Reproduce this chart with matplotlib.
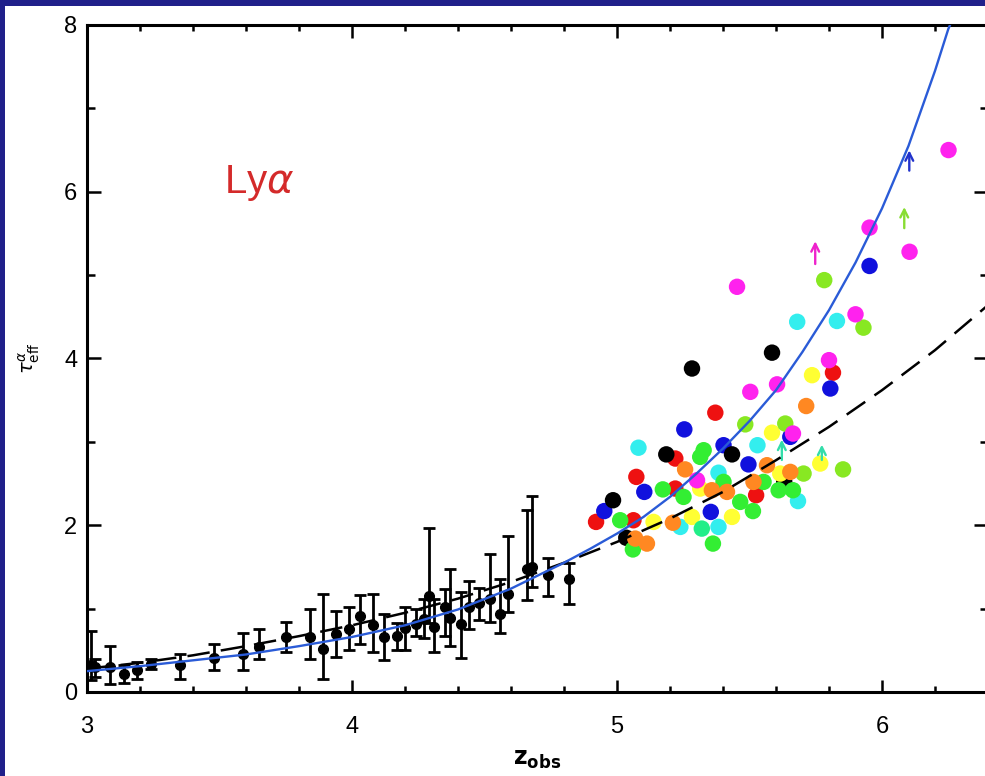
import numpy as np
import matplotlib
matplotlib.use("Agg")
import matplotlib.pyplot as plt
from matplotlib.patches import Rectangle
from matplotlib.ticker import MultipleLocator

plt.rcParams['font.family'] = ['Liberation Sans', 'DejaVu Sans']

# low-redshift measurements with asymmetric error bars
lo_z = [3.015, 3.03, 3.086, 3.14, 3.19, 3.24, 3.35, 3.48, 3.59, 3.65, 3.75,
        3.84, 3.89, 3.94, 3.99, 4.03, 4.08, 4.12, 4.17, 4.20, 4.24, 4.27,
        4.29, 4.31, 4.35, 4.37, 4.41, 4.44, 4.48, 4.52, 4.56, 4.59, 4.66,
        4.68, 4.74, 4.82]
lo_tau = [0.32, 0.30, 0.30, 0.22, 0.26, 0.34, 0.32, 0.41, 0.46, 0.54, 0.66,
          0.66, 0.52, 0.69, 0.76, 0.91, 0.80, 0.66, 0.67, 0.77, 0.81, 0.87,
          1.15, 0.78, 1.02, 0.89, 0.81, 1.02, 1.07, 1.11, 0.94, 1.17, 1.48,
          1.50, 1.40, 1.36]
lo_hi = [0.73, 0.40, 0.55, 0.32, 0.36, 0.40, 0.46, 0.58, 0.71, 0.75, 0.84,
         1.00, 1.18, 0.97, 1.02, 1.16, 1.17, 0.94, 0.83, 1.02, 1.00, 1.11,
         1.97, 1.11, 1.24, 1.48, 1.20, 1.33, 1.25, 1.65, 1.35, 1.87, 2.18,
         2.35, 1.61, 1.55]
lo_lo = [0.14, 0.18, 0.10, 0.11, 0.16, 0.28, 0.16, 0.26, 0.26, 0.39, 0.48,
         0.40, 0.15, 0.42, 0.50, 0.58, 0.48, 0.38, 0.50, 0.50, 0.67, 0.65,
         0.83, 0.48, 0.67, 0.55, 0.41, 0.75, 0.86, 0.84, 0.71, 0.96, 1.10,
         1.26, 1.15, 1.05]

# high-redshift quasar points, one list per colour
red_z = [5.815, 5.371, 5.22, 5.073, 5.22, 5.525, 5.062, 4.921]
red_t = [3.83, 3.35, 2.80, 2.58, 2.44, 2.36, 2.06, 2.04]
blue_z = [5.805, 5.254, 5.654, 5.402, 5.496, 5.103, 5.354, 4.952, 5.953]
blue_t = [3.64, 3.15, 3.06, 2.96, 2.73, 2.40, 2.16, 2.17, 5.11]
black_z = [5.585, 5.283, 5.186, 5.434, 5.631, 4.985, 5.035]
black_t = [4.07, 3.88, 2.85, 2.85, 2.52, 2.30, 1.85]
cyan_z = [5.68, 5.83, 5.081, 5.530, 5.383, 5.683, 5.383, 5.239]
cyan_t = [4.44, 4.45, 2.93, 2.96, 2.63, 2.29, 1.98, 1.98]
yellow_z = [5.736, 5.585, 5.767, 5.314, 5.616, 5.434, 5.283, 5.138]
yellow_t = [3.80, 3.11, 2.74, 2.44, 2.62, 2.10, 2.10, 2.04]
green_z = [5.327, 5.314, 5.173, 5.251, 5.402, 5.553, 5.61, 5.664, 5.465,
           5.513, 5.012, 5.06, 5.362]
green_t = [2.90, 2.82, 2.43, 2.34, 2.52, 2.52, 2.42, 2.42, 2.28, 2.17, 2.06,
           1.71, 1.78]
lime_z = [5.93, 5.484, 5.635, 5.704, 5.853, 5.782]
lime_t = [4.37, 3.21, 3.22, 2.62, 2.67, 4.94]
orange_z = [5.714, 5.566, 5.257, 5.358, 5.415, 5.515, 5.654, 5.211, 5.069,
            5.113]
orange_t = [3.43, 2.72, 2.67, 2.42, 2.40, 2.52, 2.64, 2.03, 1.84, 1.78]
magenta_z = [5.90, 5.80, 5.604, 5.503, 5.664, 5.302, 6.251, 5.953, 6.104,
             5.453]
magenta_t = [4.53, 3.98, 3.69, 3.60, 3.10, 2.54, 6.50, 5.57, 5.28, 4.86]
spring_z = [5.32]
spring_t = [1.96]

# lower limits (arrows)
arr_z = [5.748, 6.084, 6.103, 5.622, 5.773]
arr_lo = [5.10, 5.53, 6.22, 2.75, 2.75]
arr_hi = [5.44, 5.85, 6.53, 3.06, 3.00]
arr_col = ['#ee22cc', '#88dd33', '#2233cc', '#33ddaa', '#33ddaa']

# model curves
fit_z = [3.0, 3.2, 3.4, 3.6, 3.8, 4.0, 4.2, 4.4, 4.6, 4.8, 4.9, 5.0, 5.1,
         5.2, 5.3, 5.4, 5.5, 5.6, 5.7, 5.8, 5.9, 6.0, 6.1, 6.2, 6.25, 6.27]
fit_t = [0.25, 0.31, 0.38, 0.45, 0.55, 0.66, 0.80, 0.99, 1.24, 1.55, 1.72,
         1.90, 2.10, 2.34, 2.62, 2.92, 3.25, 3.62, 4.08, 4.58, 5.15, 5.80,
         6.55, 7.45, 7.95, 8.10]
pow_z = [3.0, 3.2, 3.4, 3.6, 3.8, 4.0, 4.2, 4.4, 4.6, 4.8, 5.0, 5.2, 5.4,
         5.6, 5.8, 6.0, 6.2, 6.4]
pow_t = [0.28, 0.35, 0.44, 0.55, 0.67, 0.80, 0.95, 1.12, 1.32, 1.55, 1.80,
         2.08, 2.40, 2.78, 3.18, 3.62, 4.10, 4.64]

fig = plt.figure(figsize=(9.85, 7.76), dpi=100, facecolor='#20208a')
fig.patches.append(Rectangle((5 / 985, 0), 1, 1 - 6 / 776,
                             transform=fig.transFigure, facecolor='white',
                             edgecolor='none', zorder=-10))
ax = fig.add_axes([87 / 985, 84 / 776, 901 / 985, 667 / 776])
ax.set_facecolor('white')

groups = [(red_z, red_t, '#ee1111'), (blue_z, blue_t, '#1111dd'),
          (black_z, black_t, 'black'), (cyan_z, cyan_t, '#33eeee'),
          (yellow_z, yellow_t, '#ffff33'), (green_z, green_t, '#33ee33'),
          (lime_z, lime_t, '#88e822'), (orange_z, orange_t, '#ff8822'),
          (magenta_z, magenta_t, '#ff22ee'), (spring_z, spring_t, '#22ee88')]
for zz, tt, c in groups:
    ax.scatter(zz, tt, s=140, color=c, edgecolors='none', zorder=3)

lo_err = [np.array(lo_tau) - np.array(lo_lo), np.array(lo_hi) - np.array(lo_tau)]
ax.errorbar(lo_z, lo_tau, yerr=lo_err, fmt='o', color='black', ms=7,
            elinewidth=2, capsize=4.5, capthick=2, zorder=4)

for z, a, b, c in zip(arr_z, arr_lo, arr_hi, arr_col):
    ax.annotate('', xy=(z, b), xytext=(z, a),
                arrowprops=dict(arrowstyle='->', color=c, lw=1.7,
                                mutation_scale=14), zorder=5)

ax.plot(pow_z, pow_t, color='black', lw=1.8, dashes=(9, 4.5), zorder=5)
ax.plot(fit_z, fit_t, color='#2a5bd7', lw=1.7, zorder=6)

ax.text(3.65, 6.1, 'Ly$\\alpha$', color='#d42a2a', fontsize=29, ha='center',
        va='center')

ax.set_xlim(3, 6.4)
ax.set_ylim(0, 8)
ax.xaxis.set_major_locator(MultipleLocator(1))
ax.xaxis.set_minor_locator(MultipleLocator(0.2))
ax.yaxis.set_major_locator(MultipleLocator(2))
ax.yaxis.set_minor_locator(MultipleLocator(1))
ax.tick_params(which='both', direction='in', top=True, right=True,
               width=1.8, labelsize=17)
ax.tick_params(axis='x', which='major', length=9, pad=17)
ax.tick_params(axis='x', which='minor', length=4.5)
ax.tick_params(axis='y', which='major', length=10, pad=7)
ax.tick_params(axis='y', which='minor', length=6)
for sp in ax.spines.values():
    sp.set_linewidth(2.2)

ax.set_xlabel(r'$\mathbf{z_{obs}}$', fontsize=17, labelpad=8)
ax.set_ylabel(r'$\tau^{\alpha}_{\rm eff}$', fontsize=14, labelpad=16)

fig.savefig('out.png', dpi=100, facecolor=fig.get_facecolor())
